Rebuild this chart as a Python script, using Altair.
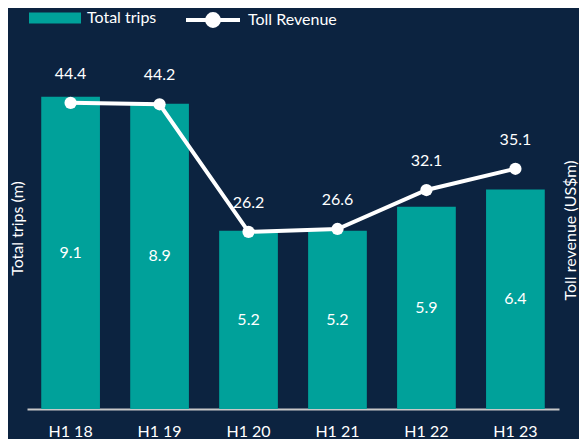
import altair as alt
import pandas as pd

periods = ["H1 18", "H1 19", "H1 20", "H1 21", "H1 22", "H1 23"]
trips = [9.1, 8.9, 5.2, 5.2, 5.9, 6.4]
revenue = [44.4, 44.2, 26.2, 26.6, 32.1, 35.1]

df = pd.DataFrame({"period": periods, "trips": trips, "revenue": revenue})

BG = "#0c2340"
TEAL = "#00a19a"
FONT = "Lato"
FS = 16

x = alt.X(
    "period:N", sort=periods,
    scale=alt.Scale(paddingInner=0.34, paddingOuter=0.16),
    axis=alt.Axis(title=None, labelAngle=0, ticks=False, labelColor="white",
                  labelFontSize=FS, labelFont=FONT, labelPadding=14,
                  domainColor="#c8c8c8", domainWidth=2, grid=False),
)

yl_scale = alt.Scale(domain=[0, 10], nice=False)
left_axis = alt.Axis(title="Total trips (m)", labels=False, ticks=False, domain=False,
                     grid=False, titleColor="white", titleFontSize=FS, titleFont=FONT,
                     titleFontWeight="normal", titlePadding=2, titleY=162,
                     titleAlign="center")

yr_scale = alt.Scale(domain=[1.2, 49.6], nice=False, zero=False)
right_axis = alt.Axis(title="Toll revenue (US$m)", orient="right", labels=False, ticks=False,
                      domain=False, grid=False, titleColor="white", titleFontSize=FS,
                      titleFont=FONT, titleFontWeight="normal", titlePadding=3,
                      titleAngle=270, titleBaseline="top", titleY=164,
                      titleAlign="center")

base = alt.Chart(df).transform_calculate(
    s1="'Total trips'", s2="'Toll Revenue'", mid="datum.trips / 2"
)

bars = base.mark_bar().encode(
    x=x,
    y=alt.Y("trips:Q", scale=yl_scale, axis=left_axis),
    fill=alt.Fill(
        "s1:N",
        scale=alt.Scale(domain=["Total trips"], range=[TEAL]),
        legend=alt.Legend(
            title=None, orient="none", legendX=2, legendY=-74,
            symbolType="M-1,-0.21H1V0.21H-1Z", symbolSize=2704,
            symbolStrokeWidth=0, labelColor="white", labelFont=FONT,
            labelFontSize=16, labelOffset=6,
        ),
    ),
)

bar_text = base.mark_text(color="white", fontSize=FS, font=FONT).encode(
    x=x,
    y=alt.Y("mid:Q", scale=yl_scale, axis=left_axis),
    text=alt.Text("trips:Q", format=".1f"),
)

color_enc = alt.Color(
    "s2:N",
    scale=alt.Scale(domain=["Toll Revenue"], range=["white"]),
    legend=alt.Legend(
        title=None, orient="none", legendX=157, legendY=-75,
        symbolType="M-1,0H1M-0.22,0A0.22,0.22 0 1,1 0.22,0A0.22,0.22 0 1,1 -0.22,0Z",
        symbolSize=2916, symbolStrokeWidth=4, symbolFillColor="white",
        symbolStrokeColor="white", labelColor="white", labelFont=FONT,
        labelFontSize=16, labelOffset=6,
    ),
)

line = base.mark_line(strokeWidth=4).encode(
    x=x,
    y=alt.Y("revenue:Q", scale=yr_scale, axis=right_axis),
    color=color_enc,
)

points = base.mark_point(filled=True, size=150, opacity=1).encode(
    x=x,
    y=alt.Y("revenue:Q", scale=yr_scale, axis=right_axis),
    color=color_enc,
)

line_text = base.mark_text(color="white", fontSize=FS, font=FONT, dy=-29).encode(
    x=x,
    y=alt.Y("revenue:Q", scale=yr_scale, axis=right_axis),
    text=alt.Text("revenue:Q", format=".1f"),
)

left = alt.layer(bars, bar_text)
right = alt.layer(line, points, line_text)

chart = alt.layer(left, right).resolve_scale(y="independent").properties(
    width=532, height=343,
    autosize=alt.AutoSizeParams(type="none"),
    padding={"left": 19, "top": 58, "right": 20, "bottom": 30},
).configure(background=BG).configure_view(stroke=None)

chart.save("out.html", embed_options={"renderer": "svg", "actions": False})
